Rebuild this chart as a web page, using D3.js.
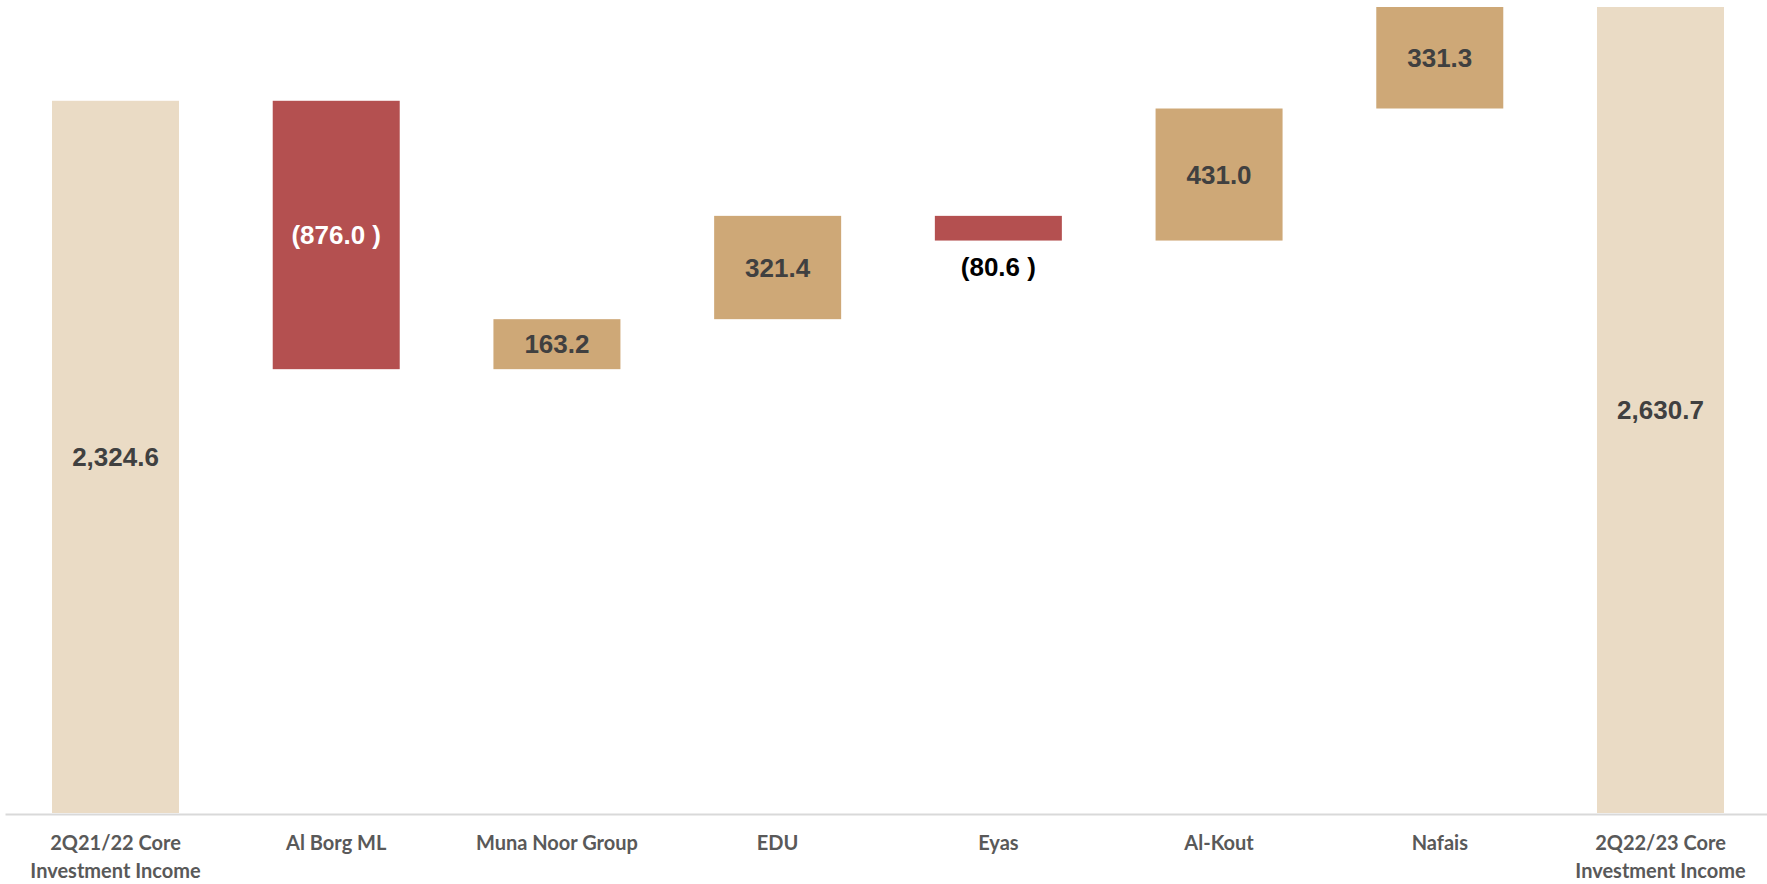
<!DOCTYPE html>
<html>
<head>
<meta charset="utf-8">
<script src="https://cdn.jsdelivr.net/npm/d3@7"></script>
<style>
  body { margin: 0; background: #fff; }
</style>
</head>
<body>
<div id="wrapper"></div>
<script>
// categories and values
const categories = ["2Q21/22 Core Investment Income", "Al Borg ML", "Muna Noor Group", "EDU", "Eyas", "Al-Kout", "Nafais", "2Q22/23 Core Investment Income"]
const kinds = ["total", "step", "step", "step", "step", "step", "step", "total"]
// bar lengths as drawn in the reference (EDU bar is drawn a bit taller than its label)
const values = [2324.6, -876.0, 163.2, 337.2, -80.6, 431.0, 331.3, 2630.7]
const valueLabels = ["2,324.6", "(876.0 )", "163.2", "321.4", "(80.6 )", "431.0", "331.3", "2,630.7"]

function drawWaterfall() {
  let dimensions = {
    width: 1767,
    height: 884,
    margin: { top: 7, right: 0, bottom: 71, left: 5 },
  }
  dimensions.boundedWidth = 1766
  dimensions.boundedHeight = dimensions.height - dimensions.margin.top - dimensions.margin.bottom

  // running total -> start/end of each bar
  let running = 0
  const bars = categories.map((c, i) => {
    let start, end
    if (kinds[i] === "total") {
      start = 0
      end = values[i]
      running = values[i]
    } else {
      start = running
      end = running + values[i]
      running = end
    }
    return { category: c, kind: kinds[i], value: values[i], label: valueLabels[i], start, end }
  })

  const wrapper = d3.select("#wrapper")
    .append("svg")
      .attr("width", dimensions.width)
      .attr("height", dimensions.height)

  const bounds = wrapper.append("g")
    .attr("transform", `translate(${dimensions.margin.left}, ${dimensions.margin.top})`)

  const xScale = d3.scaleBand()
    .domain(categories)
    .range([0, dimensions.boundedWidth])
    .paddingInner(0.4246)
    .paddingOuter(0.213)

  const yScale = d3.scaleLinear()
    .domain([0, d3.max(bars, d => Math.max(d.start, d.end))])
    .range([dimensions.boundedHeight, 0])

  const colors = { total: "#EADBC5", up: "#CEA877", down: "#B45050" }
  const colorOf = d => d.kind === "total" ? colors.total : (d.value < 0 ? colors.down : colors.up)

  bounds.selectAll("rect.bar")
    .data(bars)
    .join("rect")
      .attr("class", "bar")
      .attr("x", d => xScale(d.category))
      .attr("width", xScale.bandwidth())
      .attr("y", d => yScale(Math.max(d.start, d.end)))
      .attr("height", d => Math.abs(yScale(d.start) - yScale(d.end)))
      .attr("fill", colorOf)

  // value labels, inside the bar unless the bar is too thin
  bounds.selectAll("text.value")
    .data(bars)
    .join("text")
      .attr("class", "value")
      .attr("x", d => xScale(d.category) + xScale.bandwidth() / 2)
      .attr("y", d => {
        const top = yScale(Math.max(d.start, d.end))
        const bottom = yScale(Math.min(d.start, d.end))
        if (bottom - top < 40) return bottom + 26
        return (top + bottom) / 2
      })
      .attr("dy", "0.35em")
      .attr("text-anchor", "middle")
      .style("font-family", "Arial, 'Liberation Sans', sans-serif")
      .style("font-weight", "bold")
      .style("font-size", "26px")
      .style("fill", d => {
        const h = Math.abs(yScale(d.start) - yScale(d.end))
        if (h < 40) return "#000"
        return (d.kind !== "total" && d.value < 0) ? "#fff" : "#404040"
      })
      .text(d => d.label)

  // x axis
  const xAxisGenerator = d3.axisBottom(xScale).tickSize(0).tickFormat("")
  const xAxis = bounds.append("g")
    .attr("transform", `translate(0, ${dimensions.boundedHeight + 1})`)
    .call(xAxisGenerator)
  xAxis.select(".domain")
    .attr("stroke", "#D9D9D9")
    .attr("stroke-width", 2)

  // two-line wrapping for the long total labels
  const lines = c => c.includes("Core") ? [c.slice(0, c.indexOf("Core") + 4), c.slice(c.indexOf("Core") + 5)] : [c]
  xAxis.selectAll(".tick").each(function(c) {
    const t = d3.select(this).append("text")
      .attr("text-anchor", "middle")
      .attr("y", 36)
      .style("font-family", "Lato, 'Open Sans', sans-serif")
      .style("font-weight", "bold")
      .style("font-size", "20px")
      .style("fill", "#595959")
    lines(c).forEach((l, i) => {
      t.append("tspan").attr("x", 0).attr("dy", i === 0 ? 0 : 28).text(l)
    })
  })
}

drawWaterfall()
</script>
</body>
</html>
